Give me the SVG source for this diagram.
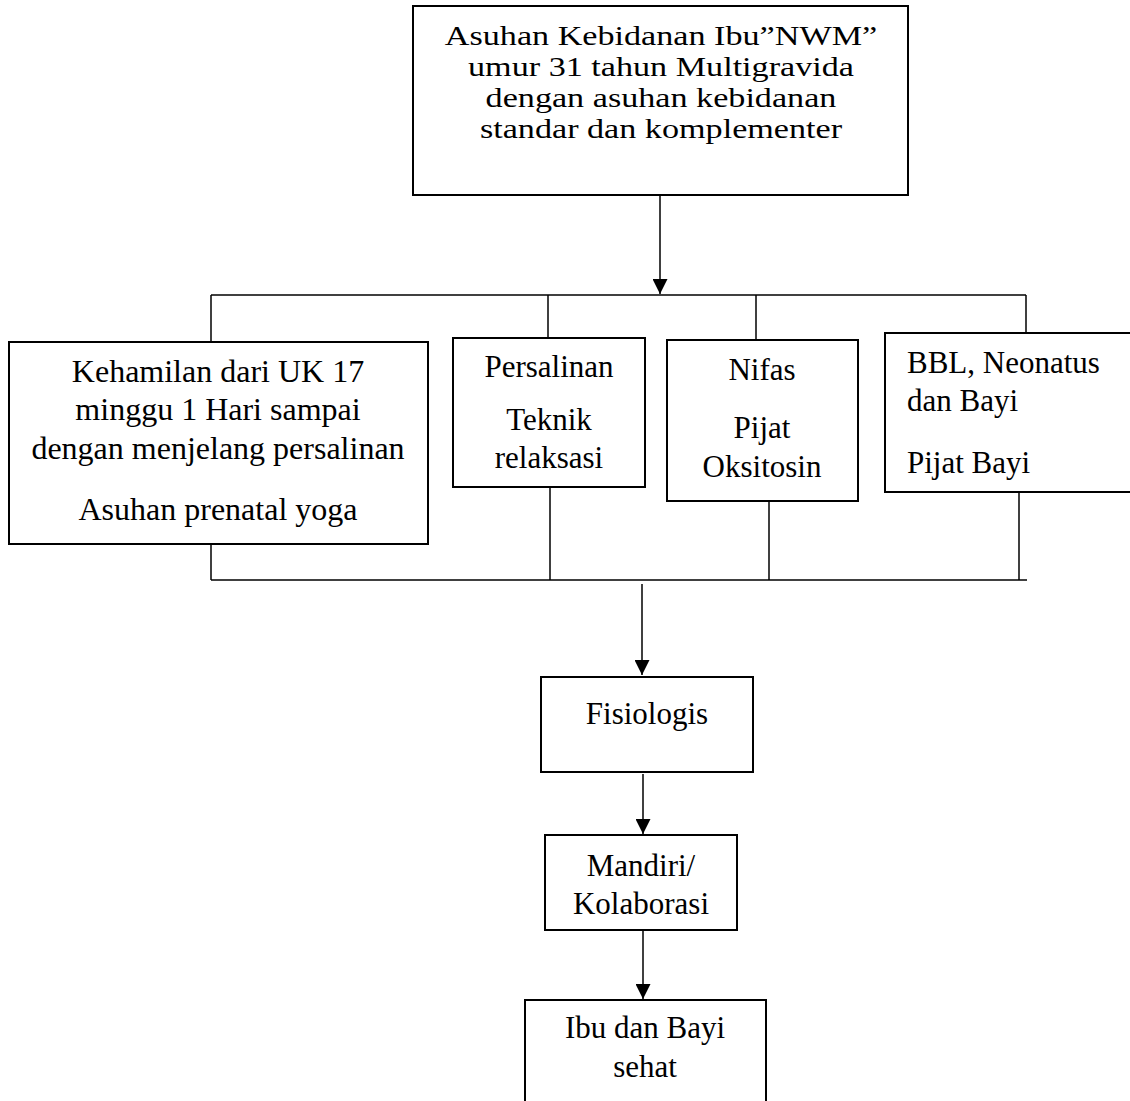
<svg xmlns="http://www.w3.org/2000/svg" width="1130" height="1101" viewBox="0 0 1130 1101">
<defs>
<marker id="arr" viewBox="0 0 10 10" refX="10" refY="5" markerWidth="15" markerHeight="15" markerUnits="userSpaceOnUse" orient="auto">
<path d="M0,0 L10,5 L0,10 Z" fill="#000"/>
</marker>
</defs>
<style>
.box{fill:#fff;stroke:#000;stroke-width:2}
.ln{fill:none;stroke:#000;stroke-width:1.5}
text{font-family:"Liberation Serif","Times New Roman",serif;font-size:31px;fill:#000}
.c{text-anchor:middle}
.t{font-size:28px}
.k{font-size:32px}
</style>
<rect width="1130" height="1101" fill="#fff"/>
<g id="connectors">
<line class="ln" x1="660" y1="195" x2="660" y2="294" marker-end="url(#arr)"/>
<line class="ln" x1="211" y1="295" x2="1026" y2="295"/>
<line class="ln" x1="211" y1="295" x2="211" y2="342"/>
<line class="ln" x1="548" y1="295" x2="548" y2="338"/>
<line class="ln" x1="756" y1="295" x2="756" y2="340"/>
<line class="ln" x1="1026" y1="295" x2="1026" y2="333"/>
<line class="ln" x1="211" y1="544" x2="211" y2="580"/>
<line class="ln" x1="550" y1="487" x2="550" y2="580"/>
<line class="ln" x1="769" y1="501" x2="769" y2="580"/>
<line class="ln" x1="1019" y1="492" x2="1019" y2="580"/>
<line class="ln" x1="211" y1="580" x2="1027" y2="580"/>
<line class="ln" x1="642" y1="584" x2="642" y2="675" marker-end="url(#arr)"/>
<line class="ln" x1="643" y1="774" x2="643" y2="834" marker-end="url(#arr)"/>
<line class="ln" x1="643" y1="931" x2="643" y2="999" marker-end="url(#arr)"/>
</g>
<g id="node-top">
<rect class="box" x="413" y="6" width="495" height="189"/>
<g transform="translate(661,0) scale(1.22,1)">
<text class="c t" x="0" y="45">Asuhan Kebidanan Ibu”NWM”</text>
<text class="c t" x="0" y="76">umur 31 tahun Multigravida</text>
<text class="c t" x="0" y="107">dengan asuhan kebidanan</text>
<text class="c t" x="0" y="138">standar dan komplementer</text>
</g>
</g>
<g id="node-kehamilan">
<rect class="box" x="9" y="342" width="419" height="202"/>
<text class="c k" x="218" y="382">Kehamilan dari UK 17</text>
<text class="c k" x="218" y="420">minggu 1 Hari sampai</text>
<text class="c k" x="218" y="459">dengan menjelang persalinan</text>
<text class="c k" x="218" y="520">Asuhan prenatal yoga</text>
</g>
<g id="node-persalinan">
<rect class="box" x="453" y="338" width="192" height="149"/>
<text class="c" x="549" y="377">Persalinan</text>
<text class="c" x="549" y="430">Teknik</text>
<text class="c" x="549" y="468">relaksasi</text>
</g>
<g id="node-nifas">
<rect class="box" x="667" y="340" width="191" height="161"/>
<text class="c" x="762" y="380">Nifas</text>
<text class="c" x="762" y="438">Pijat</text>
<text class="c" x="762" y="477">Oksitosin</text>
</g>
<g id="node-bbl">
<rect class="box" x="885" y="333" width="250" height="159"/>
<text x="907" y="373">BBL, Neonatus</text>
<text x="907" y="411">dan Bayi</text>
<text x="907" y="473">Pijat Bayi</text>
</g>
<g id="node-fisiologis">
<rect class="box" x="541" y="677" width="212" height="95"/>
<text class="c" x="647" y="724">Fisiologis</text>
</g>
<g id="node-mandiri">
<rect class="box" x="545" y="835" width="192" height="95"/>
<text class="c" x="641" y="876">Mandiri/</text>
<text class="c" x="641" y="914">Kolaborasi</text>
</g>
<g id="node-ibu">
<rect class="box" x="525" y="1000" width="241" height="110"/>
<text class="c" x="645" y="1038">Ibu dan Bayi</text>
<text class="c" x="645" y="1077">sehat</text>
</g>
</svg>
